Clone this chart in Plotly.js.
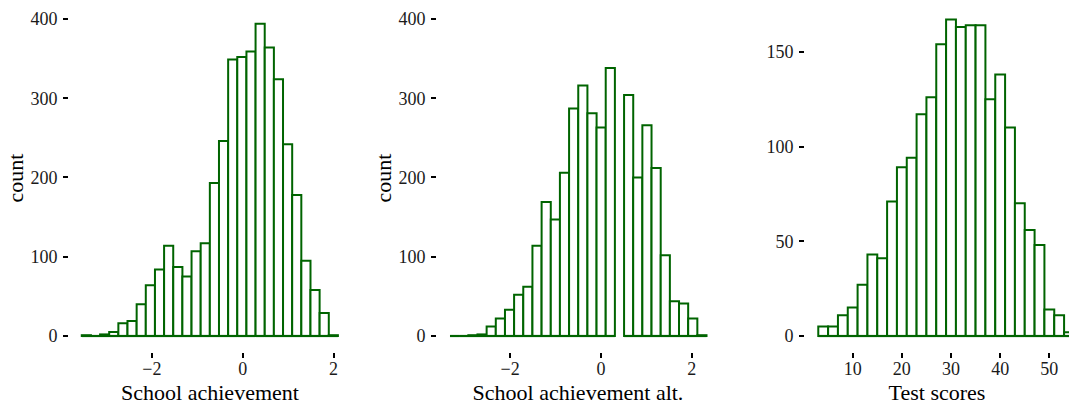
<!DOCTYPE html>
<html>
<head>
<meta charset="utf-8">
<script src="https://cdn.plot.ly/plotly-3.0.1.min.js"></script>
<style>
  html, body { margin: 0; padding: 0; background: #ffffff; }
  #chart { width: 1069px; height: 406px; }
</style>
</head>
<body>
<div id="chart"></div>
<script>
// School achievement: bin centres and counts
const achBinWidth = 0.2015;
const achCenters = [-3.444, -3.243, -3.041, -2.840, -2.638, -2.437, -2.235, -2.034,
  -1.832, -1.631, -1.429, -1.228, -1.026, -0.825, -0.623, -0.422, -0.220, -0.019,
  0.183, 0.384, 0.586, 0.787, 0.989, 1.190, 1.392, 1.593, 1.795, 1.996];
const achCounts = [1, 0, 2, 5, 16, 19, 40, 64, 84, 114, 87, 75, 107, 117,
  193, 246, 349, 352, 359, 394, 364, 324, 242, 178, 95, 58, 29, 1];

// School achievement alt.: one bin has no value at all
const altBinWidth = 0.2018;
const altCenters = [-3.225, -3.023, -2.821, -2.620, -2.418, -2.216, -2.014, -1.813,
  -1.611, -1.409, -1.207, -1.005, -0.804, -0.602, -0.400, -0.198, 0.003, 0.205,
  0.407, 0.609, 0.810, 1.012, 1.214, 1.416, 1.618, 1.819, 2.021, 2.223];
const altCounts = [0, 0, 1, 2, 12, 22, 33, 52, 62, 114, 169, 147, 206, 287,
  316, 281, 263, 338, null, 304, 200, 266, 212, 102, 44, 41, 22, 1];

// Test scores
const testBinWidth = 2;
const testCenters = [4, 6, 8, 10, 12, 14, 16, 18, 20, 22, 24, 26, 28, 30,
  32, 34, 36, 38, 40, 42, 44, 46, 48, 50, 52, 54];
const testCounts = [5, 5, 11, 15, 27, 43, 41, 71, 89, 94, 117, 126, 154, 167,
  163, 164, 164, 125, 138, 110, 70, 56, 48, 14, 11, 2];

// Axis ticks
const achTicks = [-2, 0, 2];
const testTicks = [10, 20, 30, 40, 50];
const countTicks = [0, 100, 200, 300, 400];
const testCountTicks = [0, 50, 100, 150];

const GREEN = '#006400';
const SERIF = '"Liberation Serif", "Times New Roman", serif';

// Outlined histogram bars plus the zero line under every bin that has a value
function histogram(centers, counts, width, xa, ya) {
  const bars = {
    type: 'bar', x: centers, y: counts, width: width,
    xaxis: xa, yaxis: ya,
    marker: { color: 'rgba(255,255,255,1)', line: { color: GREEN, width: 2 } },
    hoverinfo: 'x+y'
  };
  const bx = [], by = [];
  centers.forEach((c, i) => {
    if (counts[i] === null) return;
    bx.push(c - width / 2, c + width / 2, null);
    by.push(0, 0, null);
  });
  const base = {
    type: 'scatter', mode: 'lines', x: bx, y: by,
    xaxis: xa, yaxis: ya,
    line: { color: GREEN, width: 2.2 },
    connectgaps: false, hoverinfo: 'skip'
  };
  return [bars, base];
}

const data = [
  ...histogram(achCenters, achCounts, achBinWidth, 'x', 'y'),
  ...histogram(altCenters, altCounts, altBinWidth, 'x2', 'y2'),
  ...histogram(testCenters, testCounts, testBinWidth, 'x3', 'y3')
];

const W = 1069, H = 406;
const yDom = [1 - 352 / H, 1 - 4 / H];

function xAxis(dom, range, ticks, title) {
  return {
    domain: dom, range: range, tickvals: ticks,
    ticks: 'outside', ticklen: 5, tickwidth: 2, tickcolor: '#000',
    showgrid: false, zeroline: false, showline: false,
    tickfont: { family: SERIF, size: 18, color: '#1a1a1a' },
    ticklabelstandoff: -5,
    title: { text: title, font: { family: SERIF, size: 22, color: '#000' }, standoff: 7 },
    fixedrange: true
  };
}
function yAxis(anchor, range, ticks, title) {
  const ax = {
    anchor: anchor, domain: yDom, range: range, tickvals: ticks,
    ticks: 'outside', ticklen: 5, tickwidth: 2, tickcolor: '#000',
    showgrid: false, zeroline: false, showline: false,
    tickfont: { family: SERIF, size: 18, color: '#1a1a1a' },
    ticklabelstandoff: 2,
    fixedrange: true
  };
  if (title) ax.title = { text: title, font: { family: SERIF, size: 22, color: '#000' }, standoff: 0 };
  return ax;
}

const layout = {
  width: W, height: H,
  margin: { l: 0, r: 0, t: 0, b: 0, pad: 0 },
  paper_bgcolor: '#ffffff', plot_bgcolor: '#ffffff',
  showlegend: false, bargap: 0,
  xaxis: Object.assign(xAxis([69 / W, 351 / W], [-3.826, 2.385], achTicks, 'School achievement'), { anchor: 'y' }),
  yaxis: yAxis('x', [-20.19, 418.9], countTicks, 'count'),
  xaxis2: Object.assign(xAxis([437 / W, 719 / W], [-3.612, 2.599], achTicks, 'School achievement alt.'), { anchor: 'y2' }),
  yaxis2: yAxis('x2', [-20.19, 418.9], countTicks, 'count'),
  xaxis3: Object.assign(xAxis([805 / W, 1], [0.3, 54.0], testTicks, 'Test scores'), { anchor: 'y3' }),
  yaxis3: yAxis('x3', [-8.44, 175.2], testCountTicks, null)
};

Plotly.newPlot('chart', data, layout, { displayModeBar: false, staticPlot: true });
</script>
</body>
</html>
